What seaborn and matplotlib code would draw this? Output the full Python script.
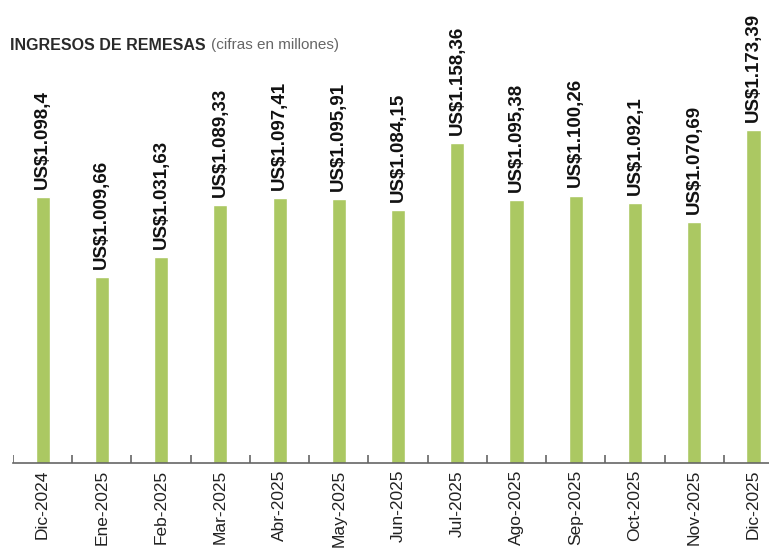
import matplotlib
matplotlib.use("Agg")
import matplotlib.pyplot as plt
import seaborn as sns
import pandas as pd

months = ["Dic-2024", "Ene-2025", "Feb-2025", "Mar-2025", "Abr-2025", "May-2025",
          "Jun-2025", "Jul-2025", "Ago-2025", "Sep-2025", "Oct-2025", "Nov-2025", "Dic-2025"]
values = [1098.40, 1009.66, 1031.63, 1089.33, 1097.41, 1095.91,
          1084.15, 1158.36, 1095.38, 1100.26, 1092.10, 1070.69, 1173.39]
labels = ["US$1.098,4", "US$1.009,66", "US$1.031,63", "US$1.089,33", "US$1.097,41",
          "US$1.095,91", "US$1.084,15", "US$1.158,36", "US$1.095,38", "US$1.100,26",
          "US$1.092,1", "US$1.070,69", "US$1.173,39"]

sns.set_theme(style="white")
plt.rcParams['font.family'] = ['Liberation Sans', 'DejaVu Sans']

df = pd.DataFrame({"mes": months, "valor": values})

fig = plt.figure(figsize=(7.69, 5.48), dpi=100)
ax = fig.add_axes([13 / 769, (548 - 463) / 548, 1 - 13 / 769, 463 / 548])

bar_color = "#abc862"
sns.barplot(data=df, x="mes", y="valor", color=bar_color, width=0.24,
            saturation=1, ax=ax)

ax.set_ylim(802.5, 1318)
ax.set_xlim(-0.5, 12.26)

for i, (v, lab) in enumerate(zip(values, labels)):
    ax.annotate(lab, xy=(i, v), xytext=(0, 6), textcoords="offset points",
                rotation=90, ha="center", va="bottom", fontsize=13.5,
                fontweight="bold", color="#111111")

for s in ["top", "right", "left"]:
    ax.spines[s].set_visible(False)
ax.spines["bottom"].set_color("#666666")
ax.spines["bottom"].set_linewidth(1.2)
ax.set_yticks([])
ax.set_xlabel("")
ax.set_ylabel("")

ax.set_xticks(range(len(months)))
ax.set_xticklabels(months, rotation=90, fontsize=12.5, color="#222222")
ax.tick_params(axis="x", length=0, pad=5)

# boundary tick marks between groups
for b in [i - 0.5 for i in range(len(months) + 1)]:
    ax.plot([b, b], [802.5, 802.5 + 9], color="#666666", lw=1.2,
            clip_on=True, solid_capstyle="butt")

t1 = fig.text(10 / 769, 1 - 45 / 548, "INGRESOS DE REMESAS", fontsize=11.5,
              fontweight="bold", color="#2a2a2a", va="center", ha="left")
fig.canvas.draw()
bb = t1.get_window_extent(renderer=fig.canvas.get_renderer())
x_next = (bb.x1 + 5) / fig.bbox.width
fig.text(x_next, 1 - 45 / 548, "(cifras en millones)", fontsize=11,
         color="#666666", va="center", ha="left")

fig.savefig("out.png", dpi=100)
